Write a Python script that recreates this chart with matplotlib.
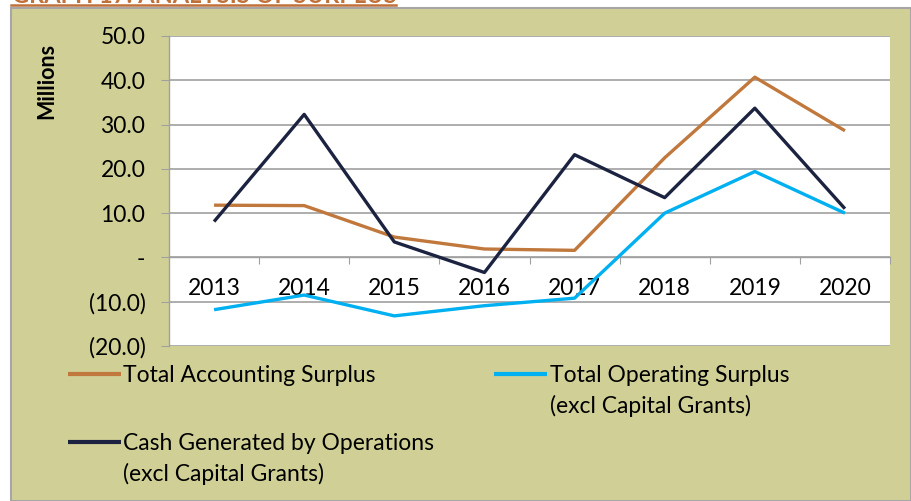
import matplotlib
matplotlib.use("Agg")
import matplotlib.pyplot as plt
from matplotlib.patches import Rectangle
from matplotlib.lines import Line2D

# values in millions
years = ["2013", "2014", "2015", "2016", "2017", "2018", "2019", "2020"]
accounting = [11.8, 11.7, 4.6, 1.9, 1.6, 22.5, 40.7, 28.6]
operating = [-11.8, -8.5, -13.2, -10.9, -9.2, 10.0, 19.4, 10.0]
cash = [8.1, 32.3, 3.5, -3.4, 23.2, 13.5, 33.7, 11.0]
yticks = [-20, -10, 0, 10, 20, 30, 40, 50]
ytick_labels = ["(20.0)", "(10.0)", "-", "10.0", "20.0", "30.0", "40.0", "50.0"]

W, H = 911, 501
KHAKI = "#D0D096"
GRID = "#A0A0A0"
FS = 16.5
plt.rcParams["font.family"] = ["Lato", "DejaVu Sans"]

fig = plt.figure(figsize=(W / 100, H / 100), dpi=100, facecolor="white")

# khaki panel behind the chart
fig.add_artist(Rectangle((11 / W, 0), 1 - 11 / W, 1 - 8 / H, transform=fig.transFigure,
                         facecolor=KHAKI, edgecolor="#A6A6A6", lw=1.5, zorder=-1))

# title, mostly cut off at the top of the page, underlined
fig.text(12 / W, 1 - 3 / H, "GRAPH 17: ANALYSIS OF SURPLUS", color="#C0713A",
         fontsize=17, fontweight="bold", va="baseline", ha="left")
fig.add_artist(Line2D([11 / W, 396 / W], [1 - 5 / H, 1 - 5 / H], transform=fig.transFigure,
                      color="#C0713A", lw=1.8))

ax = fig.add_axes([169 / W, 1 - 346 / H, (890 - 169) / W, (346 - 36) / H])
ax.set_facecolor("white")
x = list(range(len(years)))
l_acc, = ax.plot(x, accounting, color="#C0783C", lw=2.4, zorder=3, solid_capstyle="butt")
l_op, = ax.plot(x, operating, color="#00B0F0", lw=2.4, zorder=3, solid_capstyle="butt")
l_cash, = ax.plot(x, cash, color="#1C2340", lw=2.4, zorder=3, solid_capstyle="butt")

ax.set_xlim(-0.5, len(years) - 0.5)
ax.set_ylim(-20, 50)
ax.set_yticks(yticks)
ax.set_yticklabels(ytick_labels)
ax.yaxis.grid(True, color=GRID, lw=1.2)
ax.set_axisbelow(True)
ax.tick_params(axis="y", direction="out", length=6, color=GRID, pad=11, labelsize=FS)

# category axis sits on zero, ticks between categories, labels centred
ax.spines["bottom"].set_position(("data", 0))
for s in ["top", "right"]:
    ax.spines[s].set_visible(False)
for s in ["bottom", "left"]:
    ax.spines[s].set_color(GRID)
    ax.spines[s].set_linewidth(1.0)
ax.set_xticks([i + 0.5 for i in x])
ax.set_xticklabels([])
ax.tick_params(axis="x", which="major", direction="out", length=5, color=GRID)
ax.set_xticks(x, minor=True)
ax.set_xticklabels(years, minor=True)
ax.tick_params(axis="x", which="minor", length=0, pad=15, labelsize=FS)

fig.text(47 / W, 1 - 81 / H, "Millions", rotation=90, fontsize=15.5, fontweight="bold",
         ha="center", va="center")

leg = ax.legend([l_acc, l_cash, l_op],
                ["Total Accounting Surplus", "Cash Generated by Operations",
                 "Total Operating Surplus"],
                ncol=2, loc="upper left", bbox_to_anchor=(68 / W, 1 - 365 / H),
                bbox_transform=fig.transFigure, frameon=False, fontsize=FS,
                handlelength=2.3, handletextpad=0.12, columnspacing=2.6,
                labelspacing=2.05, borderaxespad=0, borderpad=0)
for h in leg.legend_handles:
    h.set_linewidth(3)
fig.canvas.draw()
texts = leg.get_texts()
for tx in (texts[1], texts[2]):
    ax.annotate("(excl Capital Grants)", xy=(0, 0), xycoords=tx, xytext=(0, -31),
                textcoords="offset pixels", fontsize=FS, ha="left", va="bottom",
                annotation_clip=False)

fig.savefig("out.png", dpi=100, facecolor="white")
